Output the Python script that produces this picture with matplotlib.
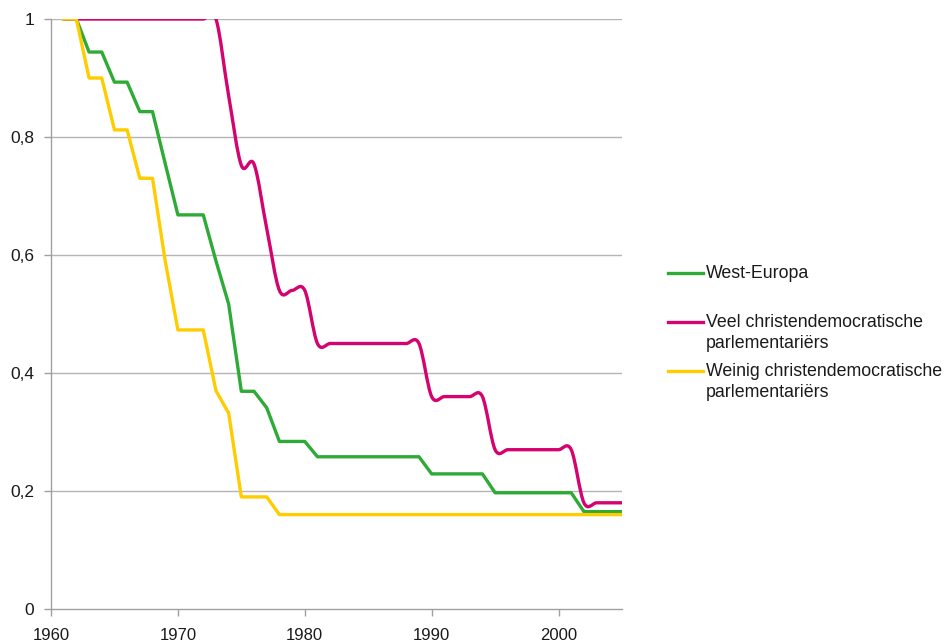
import numpy as np
import matplotlib
matplotlib.use('Agg')
import matplotlib.pyplot as plt
from matplotlib.path import Path
from matplotlib.patches import PathPatch
from matplotlib.lines import Line2D
from matplotlib.ticker import FuncFormatter

plt.rcParams['font.family'] = ['Liberation Sans', 'DejaVu Sans']

# data, one value per year 1961-2005
years = list(range(1961, 2006))

west_europa = [1.0, 1.0, 0.944, 0.944, 0.893, 0.893, 0.843, 0.843, 0.755,
               0.668, 0.668, 0.668, 0.59, 0.517, 0.369, 0.369, 0.341,
               0.284, 0.284, 0.284] + [0.258] * 9 + [0.229] * 5 + \
              [0.197] * 7 + [0.165] * 4

veel_cd = [1.0] * 13 + [0.87, 0.752, 0.754, 0.645, 0.54, 0.54, 0.54] + \
          [0.45] * 9 + [0.36] * 5 + [0.27] * 7 + [0.18] * 4

weinig_cd = [1.0, 1.0, 0.90, 0.90, 0.812, 0.812, 0.73, 0.73, 0.59,
             0.473, 0.473, 0.473, 0.37, 0.332, 0.19, 0.19, 0.19] + [0.16] * 28

labels = ['West-Europa',
          'Veel christendemocratische\nparlementariërs',
          'Weinig christendemocratische\nparlementariërs']
colors = ['#2EAA36', '#D4036F', '#FFCC00']

GRID = '#B4B4B4'
LW = 2.4


def smooth_path(x, y):
    """Catmull-Rom style bezier path through the points (like Excel's smoothed line)."""
    n = len(x)
    verts = [(x[0], y[0])]
    codes = [Path.MOVETO]
    for i in range(n - 1):
        p0 = max(i - 1, 0)
        p3 = min(i + 2, n - 1)
        c1 = (x[i] + (x[i + 1] - x[p0]) / 6.0, y[i] + (y[i + 1] - y[p0]) / 6.0)
        c2 = (x[i + 1] - (x[p3] - x[i]) / 6.0, y[i + 1] - (y[p3] - y[i]) / 6.0)
        verts += [c1, c2, (x[i + 1], y[i + 1])]
        codes += [Path.CURVE4] * 3
    return Path(verts, codes)


fig = plt.figure(figsize=(9.46, 6.44), dpi=100)
ax = fig.add_axes([51 / 946, 35 / 644, 571 / 946, 590 / 644])

for yv in [0.2, 0.4, 0.6, 0.8, 1.0]:
    ax.axhline(yv, color=GRID, lw=1.0, zorder=0)

ax.plot(years, west_europa, color=colors[0], lw=LW, solid_joinstyle='round', zorder=3)
ax.add_patch(PathPatch(smooth_path(years, veel_cd), fill=False,
                       edgecolor=colors[1], lw=LW, joinstyle='round', zorder=4))
ax.plot(years, weinig_cd, color=colors[2], lw=LW, solid_joinstyle='round', zorder=5)

ax.set_xlim(1960, 2005)
ax.set_ylim(0, 1)
ax.set_xticks([1960, 1970, 1980, 1990, 2000])
ax.set_yticks([0, 0.2, 0.4, 0.6, 0.8, 1.0])
ax.yaxis.set_major_formatter(FuncFormatter(lambda v, p: ('%g' % round(v, 1)).replace('.', ',')))

for s in ['top', 'right']:
    ax.spines[s].set_visible(False)
for s in ['left', 'bottom']:
    ax.spines[s].set_color('#A0A0A0')
    ax.spines[s].set_linewidth(1.0)
ax.tick_params(axis='both', color='#A0A0A0', length=5, width=1.0,
               labelsize=12, labelcolor='#1A1A1A')
ax.tick_params(axis='y', pad=7, labelsize=12.5)
ax.tick_params(axis='x', pad=9)

# legend, drawn by hand so the handle sits at the first text line
leg_y = [273, 322, 371]
for lab, col, yp in zip(labels, colors, leg_y):
    yf = 1 - yp / 644
    fig.add_artist(Line2D([668 / 946, 703 / 946], [yf, yf], color=col, lw=LW,
                          transform=fig.transFigure))
    fig.text(706 / 946, 1 - (yp - 8) / 644, lab, fontsize=12.8, color='#1A1A1A',
             va='top', ha='left', linespacing=1.32)

fig.savefig('out.png', dpi=100)
